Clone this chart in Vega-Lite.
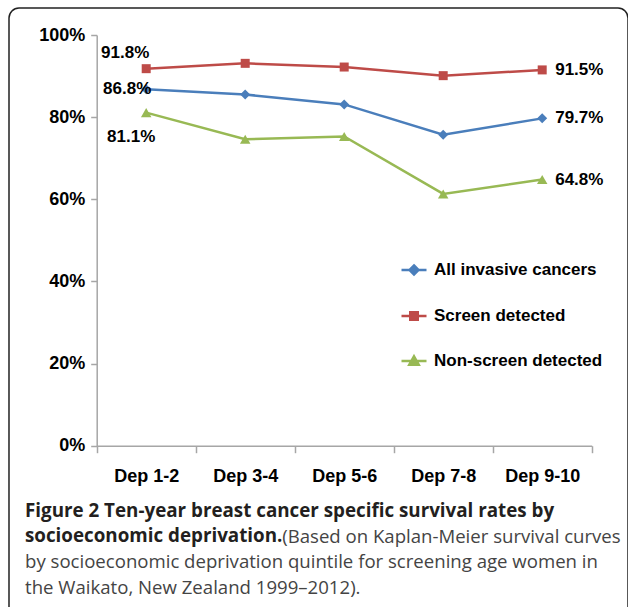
{
  "$schema": "https://vega.github.io/schema/vega-lite/v6.json",
  "autosize": {"type": "none"},
  "padding": {"left": 9, "top": 8, "right": 0, "bottom": 0},
  "width": 619,
  "height": 640,
  "background": "white",
  "config": {
    "view": {"stroke": "#222222", "strokeWidth": 1.5, "cornerRadius": 10, "fill": "white"},
    "axis": {"grid": false, "title": null}
  },
  "title": {
    "text": ["Figure 2 Ten-year breast cancer specific survival rates by", "socioeconomic deprivation."],
    "subtitle": ["\u200b\u2003\u2003\u2003\u2003\u2003\u2003\u2003\u2003\u2003\u2003\u2003\u2003\u2003\u2002\u2009\u2009(Based on Kaplan-Meier survival curves", "by socioeconomic deprivation quintile for screening age women in", "the Waikato, New Zealand 1999\u20132012)."],
    "orient": "bottom",
    "anchor": "start",
    "frame": "group",
    "offset": -146,
    "dx": 16,
    "font": "Open Sans",
    "fontSize": 18.8,
    "fontWeight": "bold",
    "color": "#231f20",
    "lineHeight": 25.3,
    "subtitleFont": "Open Sans",
    "subtitleFontSize": 18.6,
    "subtitleFontWeight": "normal",
    "subtitleColor": "#444444",
    "subtitleLineHeight": 25.3,
    "subtitlePadding": -18
  },
  "data": {
    "values": [
      {"dep": "Dep 1-2", "series": "All invasive cancers", "rate": 0.868},
      {"dep": "Dep 3-4", "series": "All invasive cancers", "rate": 0.855},
      {"dep": "Dep 5-6", "series": "All invasive cancers", "rate": 0.831},
      {"dep": "Dep 7-8", "series": "All invasive cancers", "rate": 0.757},
      {"dep": "Dep 9-10", "series": "All invasive cancers", "rate": 0.797},
      {"dep": "Dep 1-2", "series": "Screen detected", "rate": 0.918},
      {"dep": "Dep 3-4", "series": "Screen detected", "rate": 0.931},
      {"dep": "Dep 5-6", "series": "Screen detected", "rate": 0.922},
      {"dep": "Dep 7-8", "series": "Screen detected", "rate": 0.901},
      {"dep": "Dep 9-10", "series": "Screen detected", "rate": 0.915},
      {"dep": "Dep 1-2", "series": "Non-screen detected", "rate": 0.811},
      {"dep": "Dep 3-4", "series": "Non-screen detected", "rate": 0.746},
      {"dep": "Dep 5-6", "series": "Non-screen detected", "rate": 0.753},
      {"dep": "Dep 7-8", "series": "Non-screen detected", "rate": 0.613},
      {"dep": "Dep 9-10", "series": "Non-screen detected", "rate": 0.648}
    ]
  },
  "encoding": {
    "x": {
      "field": "dep", "type": "nominal", "sort": null,
      "scale": {"type": "band", "range": [87.7, 582.7], "paddingInner": 0, "paddingOuter": 0},
      "axis": {
        "orient": "bottom", "offset": -202.3, "tickBand": "extent", "labelAngle": 0,
        "domainColor": "#a6a6a6", "domainWidth": 1.5, "tickColor": "#a6a6a6", "tickWidth": 1.5, "tickSize": 7,
        "labelFont": "Liberation Sans", "labelFontWeight": "bold", "labelFontSize": 18, "labelColor": "#000000",
        "labelPadding": 15
      }
    },
    "y": {
      "field": "rate", "type": "quantitative",
      "scale": {"domain": [0, 1], "range": [437.7, 27], "nice": false, "zero": true},
      "axis": {
        "orient": "left", "offset": -87.7, "values": [0, 0.2, 0.4, 0.6, 0.8, 1], "format": ".0%",
        "domainColor": "#a6a6a6", "domainWidth": 1.5, "tickColor": "#a6a6a6", "tickWidth": 1.5, "tickSize": 6,
        "labelFont": "Liberation Sans", "labelFontWeight": "bold", "labelFontSize": 18, "labelColor": "#000000",
        "labelPadding": 6
      }
    }
  },
  "layer": [
    {
      "mark": {"type": "line", "strokeWidth": 2.5},
      "encoding": {
        "color": {
          "field": "series", "type": "nominal",
          "scale": {"domain": ["All invasive cancers", "Screen detected", "Non-screen detected"], "range": ["#4a7ebb", "#be4b48", "#98b954"]},
          "legend": {
            "orient": "none", "legendX": 391, "legendY": 248, "title": null, "padding": 0,
            "symbolSize": 625, "labelOffset": 6, "rowPadding": 22, "labelLimit": 0,
            "labelFont": "Liberation Sans", "labelFontWeight": "bold", "labelFontSize": 17, "labelColor": "#000000",
            "encode": {
              "symbols": {
                "update": {
                  "shape": {"signal": "datum.value === 'All invasive cancers' ? 'M-1,0H1M0,-0.36L0.36,0L0,0.36L-0.36,0Z' : datum.value === 'Screen detected' ? 'M-1,0H1M-0.3,-0.3H0.3V0.3H-0.3Z' : 'M-1,0H1M0,-0.38L0.38,0.3L-0.38,0.3Z'"},
                  "fill": {"scale": "color", "field": "value"},
                  "stroke": {"scale": "color", "field": "value"},
                  "strokeWidth": {"value": 2.5},
                  "opacity": {"value": 1}
                }
              }
            }
          }
        }
      }
    },
    {
      "transform": [{"filter": "datum.series === 'All invasive cancers'"}],
      "mark": {"type": "point", "filled": true, "opacity": 1, "shape": "diamond", "size": 100, "color": "#4a7ebb"}
    },
    {
      "transform": [{"filter": "datum.series === 'Screen detected'"}],
      "mark": {"type": "point", "filled": true, "opacity": 1, "shape": "square", "size": 81, "color": "#be4b48"}
    },
    {
      "transform": [{"filter": "datum.series === 'Non-screen detected'"}],
      "mark": {"type": "point", "filled": true, "opacity": 1, "shape": "triangle-up", "size": 110, "color": "#98b954"}
    },
    {
      "transform": [{"filter": "datum.dep === 'Dep 1-2' && datum.series === 'Screen detected'"}],
      "mark": {"type": "text", "font": "Liberation Sans", "fontWeight": "bold", "fontSize": 17, "color": "#000000", "align": "center", "dx": -21, "dy": -16},
      "encoding": {"text": {"field": "rate", "format": ".1%"}}
    },
    {
      "transform": [{"filter": "datum.dep === 'Dep 1-2' && datum.series === 'All invasive cancers'"}],
      "mark": {"type": "text", "font": "Liberation Sans", "fontWeight": "bold", "fontSize": 17, "color": "#000000", "align": "center", "dx": -19, "dy": 0},
      "encoding": {"text": {"field": "rate", "format": ".1%"}}
    },
    {
      "transform": [{"filter": "datum.dep === 'Dep 1-2' && datum.series === 'Non-screen detected'"}],
      "mark": {"type": "text", "font": "Liberation Sans", "fontWeight": "bold", "fontSize": 17, "color": "#000000", "align": "center", "dx": -15, "dy": 24},
      "encoding": {"text": {"field": "rate", "format": ".1%"}}
    },
    {
      "transform": [{"filter": "datum.dep === 'Dep 9-10'"}],
      "mark": {"type": "text", "font": "Liberation Sans", "fontWeight": "bold", "fontSize": 17, "color": "#000000", "align": "left", "dx": 13},
      "encoding": {"text": {"field": "rate", "format": ".1%"}}
    }
  ]
}
